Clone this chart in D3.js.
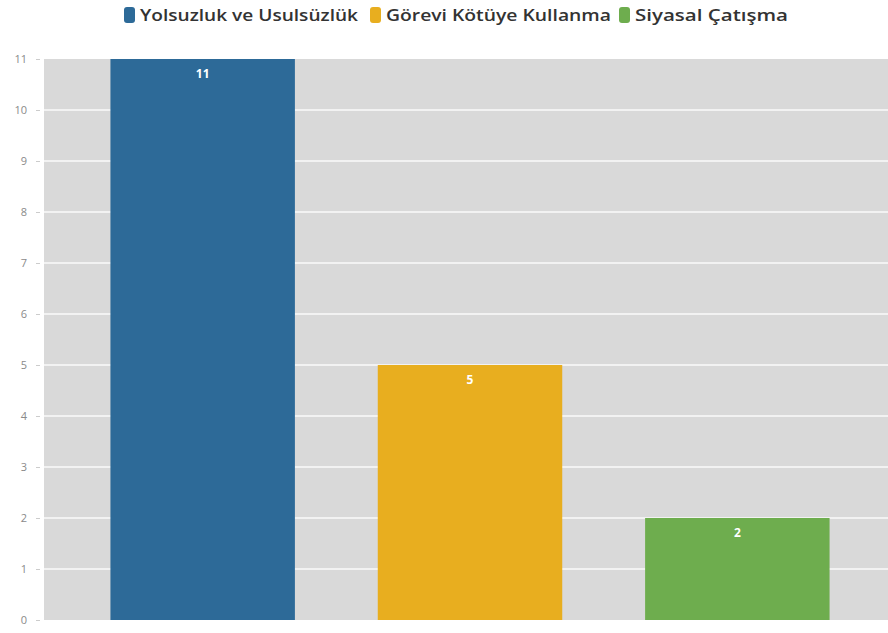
<!DOCTYPE html>
<html><head><meta charset="utf-8">
<script src="https://cdn.jsdelivr.net/npm/d3@7"></script>
<style>body{margin:0;background:#fff;font-family:"Open Sans",sans-serif;}</style>
</head><body><svg id="c" width="888" height="633"></svg>
<script>
const categories = ["Yolsuzluk ve Usulsüzlük", "Görevi Kötüye Kullanma", "Siyasal Çatışma"];
const values = [11, 5, 2];
const colors = ["#2d6a98", "#e8ae1f", "#6ead4e"];
const yTicks = [0,1,2,3,4,5,6,7,8,9,10,11];

const svg = d3.select("#c");
const plot = {left: 44, right: 888, top: 59, bottom: 620};
const x = d3.scaleBand().domain(categories).range([69, 871]).paddingInner(0.31).paddingOuter(0.155);
const y = d3.scaleLinear().domain([0, 11]).range([plot.bottom, plot.top]);

svg.append("rect").attr("x", plot.left).attr("y", plot.top)
  .attr("width", plot.right - plot.left).attr("height", plot.bottom - plot.top)
  .attr("fill", "#d9d9d9");

svg.append("g").selectAll("line").data(yTicks.filter(d => d > 0 && d < 11)).join("line")
  .attr("x1", plot.left).attr("x2", plot.right)
  .attr("y1", d => y(d)).attr("y2", d => y(d))
  .attr("stroke", "#f2f2f2").attr("stroke-width", 2);

const ax = svg.append("g").attr("transform", `translate(${plot.left - 4},0)`)
  .call(d3.axisLeft(y).tickValues(yTicks).tickSize(4).tickPadding(9));
ax.select(".domain").remove();
ax.selectAll("line").attr("stroke", "#cccccc");
ax.selectAll("text").attr("fill", "#8a8a8a").attr("font-size", 11).attr("font-family", "Open Sans, sans-serif");

svg.append("g").selectAll("rect").data(categories).join("rect")
  .attr("x", d => x(d)).attr("width", x.bandwidth())
  .attr("y", (d,i) => y(values[i])).attr("height", (d,i) => y(0) - y(values[i]))
  .attr("fill", (d,i) => colors[i]);

svg.append("g").selectAll("text").data(categories).join("text")
  .attr("x", d => x(d) + x.bandwidth()/2)
  .attr("y", (d,i) => y(values[i]) + 19)
  .attr("text-anchor", "middle").attr("fill", "#fff")
  .attr("font-size", 12).attr("font-weight", "bold")
  .text((d,i) => values[i]);

// legend
const lg = svg.append("g");
const starts = [124, 370, 619];
const widths = [218, 225, 153];
categories.forEach((c, i) => {
  const g = lg.append("g").attr("transform", `translate(${starts[i]},0)`);
  g.append("rect").attr("x", 0).attr("y", 7).attr("width", 11).attr("height", 16).attr("rx", 3).attr("fill", colors[i]);
  g.append("text").attr("x", 16).attr("y", 21).attr("font-size", 17).attr("font-weight", 600)
    .attr("textLength", widths[i]).attr("lengthAdjust", "spacingAndGlyphs")
    .attr("fill", "#333").text(c);
});
</script></body></html>
